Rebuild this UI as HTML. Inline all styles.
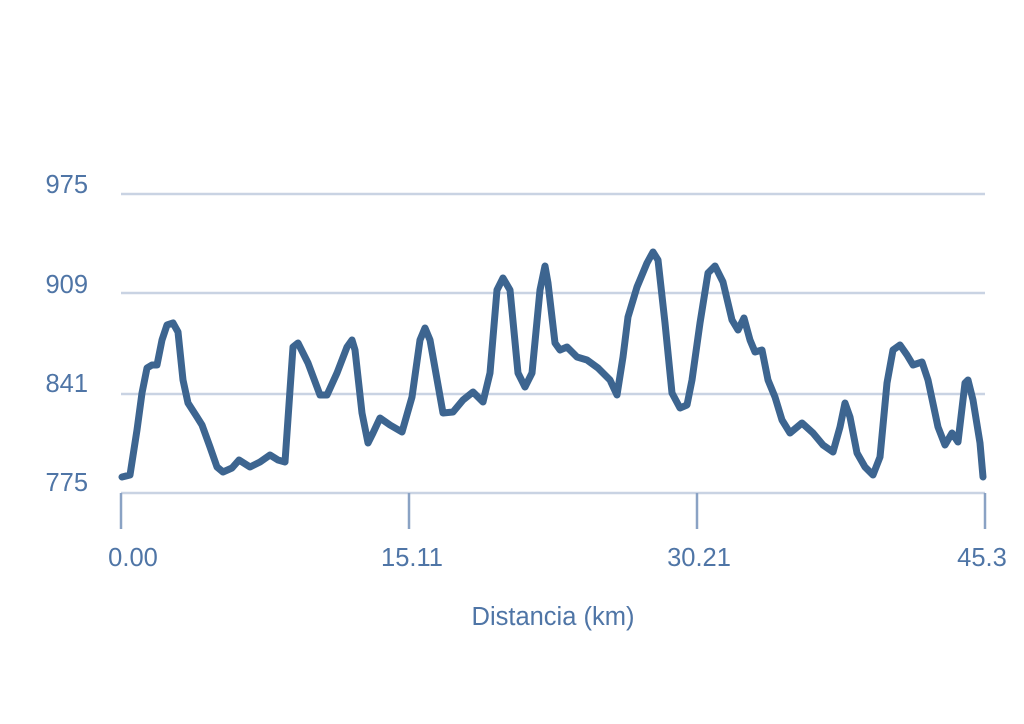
<!DOCTYPE html>
<html><head><meta charset="utf-8"><style>html,body{margin:0;padding:0;background:#fff;width:1024px;height:724px;overflow:hidden}</style></head>
<body>
<svg width="1024" height="724" xmlns="http://www.w3.org/2000/svg" font-family="'Liberation Sans', sans-serif">
<g stroke="#c9d3e3" stroke-width="2.5">
<line x1="121" y1="194" x2="985" y2="194"/>
<line x1="121" y1="293" x2="985" y2="293"/>
<line x1="121" y1="394" x2="985" y2="394"/>
<line x1="121" y1="493" x2="985" y2="493"/>
</g>
<g stroke="#8aa2c4" stroke-width="2.5">
<line x1="121" y1="493" x2="121" y2="529"/>
<line x1="409" y1="493" x2="409" y2="529"/>
<line x1="697" y1="493" x2="697" y2="529"/>
<line x1="985" y1="493" x2="985" y2="529"/>
</g>
<g fill="#4f75a6" font-size="25.5">
<text x="88" y="193" text-anchor="end">975</text>
<text x="88" y="293" text-anchor="end">909</text>
<text x="88" y="392" text-anchor="end">841</text>
<text x="88" y="491" text-anchor="end">775</text>
<text x="133" y="566" text-anchor="middle">0.00</text>
<text x="412" y="566" text-anchor="middle">15.11</text>
<text x="699" y="566" text-anchor="middle">30.21</text>
<text x="982" y="566" text-anchor="middle">45.3</text>
<text x="553" y="625" text-anchor="middle">Distancia (km)</text>
</g>
<polyline fill="none" stroke="#3d6590" stroke-width="7" stroke-linejoin="round" stroke-linecap="round"
points="122,477 130,475 137,430 142,393 147,368 152,365 157,365 162,340 167,325 173,323 178,332 183,380 188,403 197,417 202,425 210,447 217,467 223,472 232,468 239,460 250,467 260,462 270,455 278,460 285,462 290,390 293,347 298,343 308,363 320,395 327,395 337,373 347,347 352,340 355,350 362,413 368,443 373,433 380,418 390,425 402,432 412,397 420,340 425,328 430,340 443,413 453,412 463,400 473,392 483,402 490,373 497,290 503,278 510,290 518,373 525,387 532,373 540,290 545,266 548,283 555,343 560,350 567,347 577,357 587,360 598,368 610,380 617,395 623,357 628,317 637,287 647,263 653,252 658,260 665,323 672,393 680,408 687,405 692,380 700,323 708,273 715,266 723,282 732,320 738,330 744,318 750,340 755,352 762,350 768,380 775,397 782,420 790,433 802,423 813,433 823,445 833,452 840,427 845,403 850,417 857,453 865,467 873,475 880,457 887,383 893,350 900,345 907,355 913,365 922,362 928,380 938,427 945,445 952,433 958,442 965,383 968,380 973,400 980,443 983,477"/>
</svg>
</body></html>
